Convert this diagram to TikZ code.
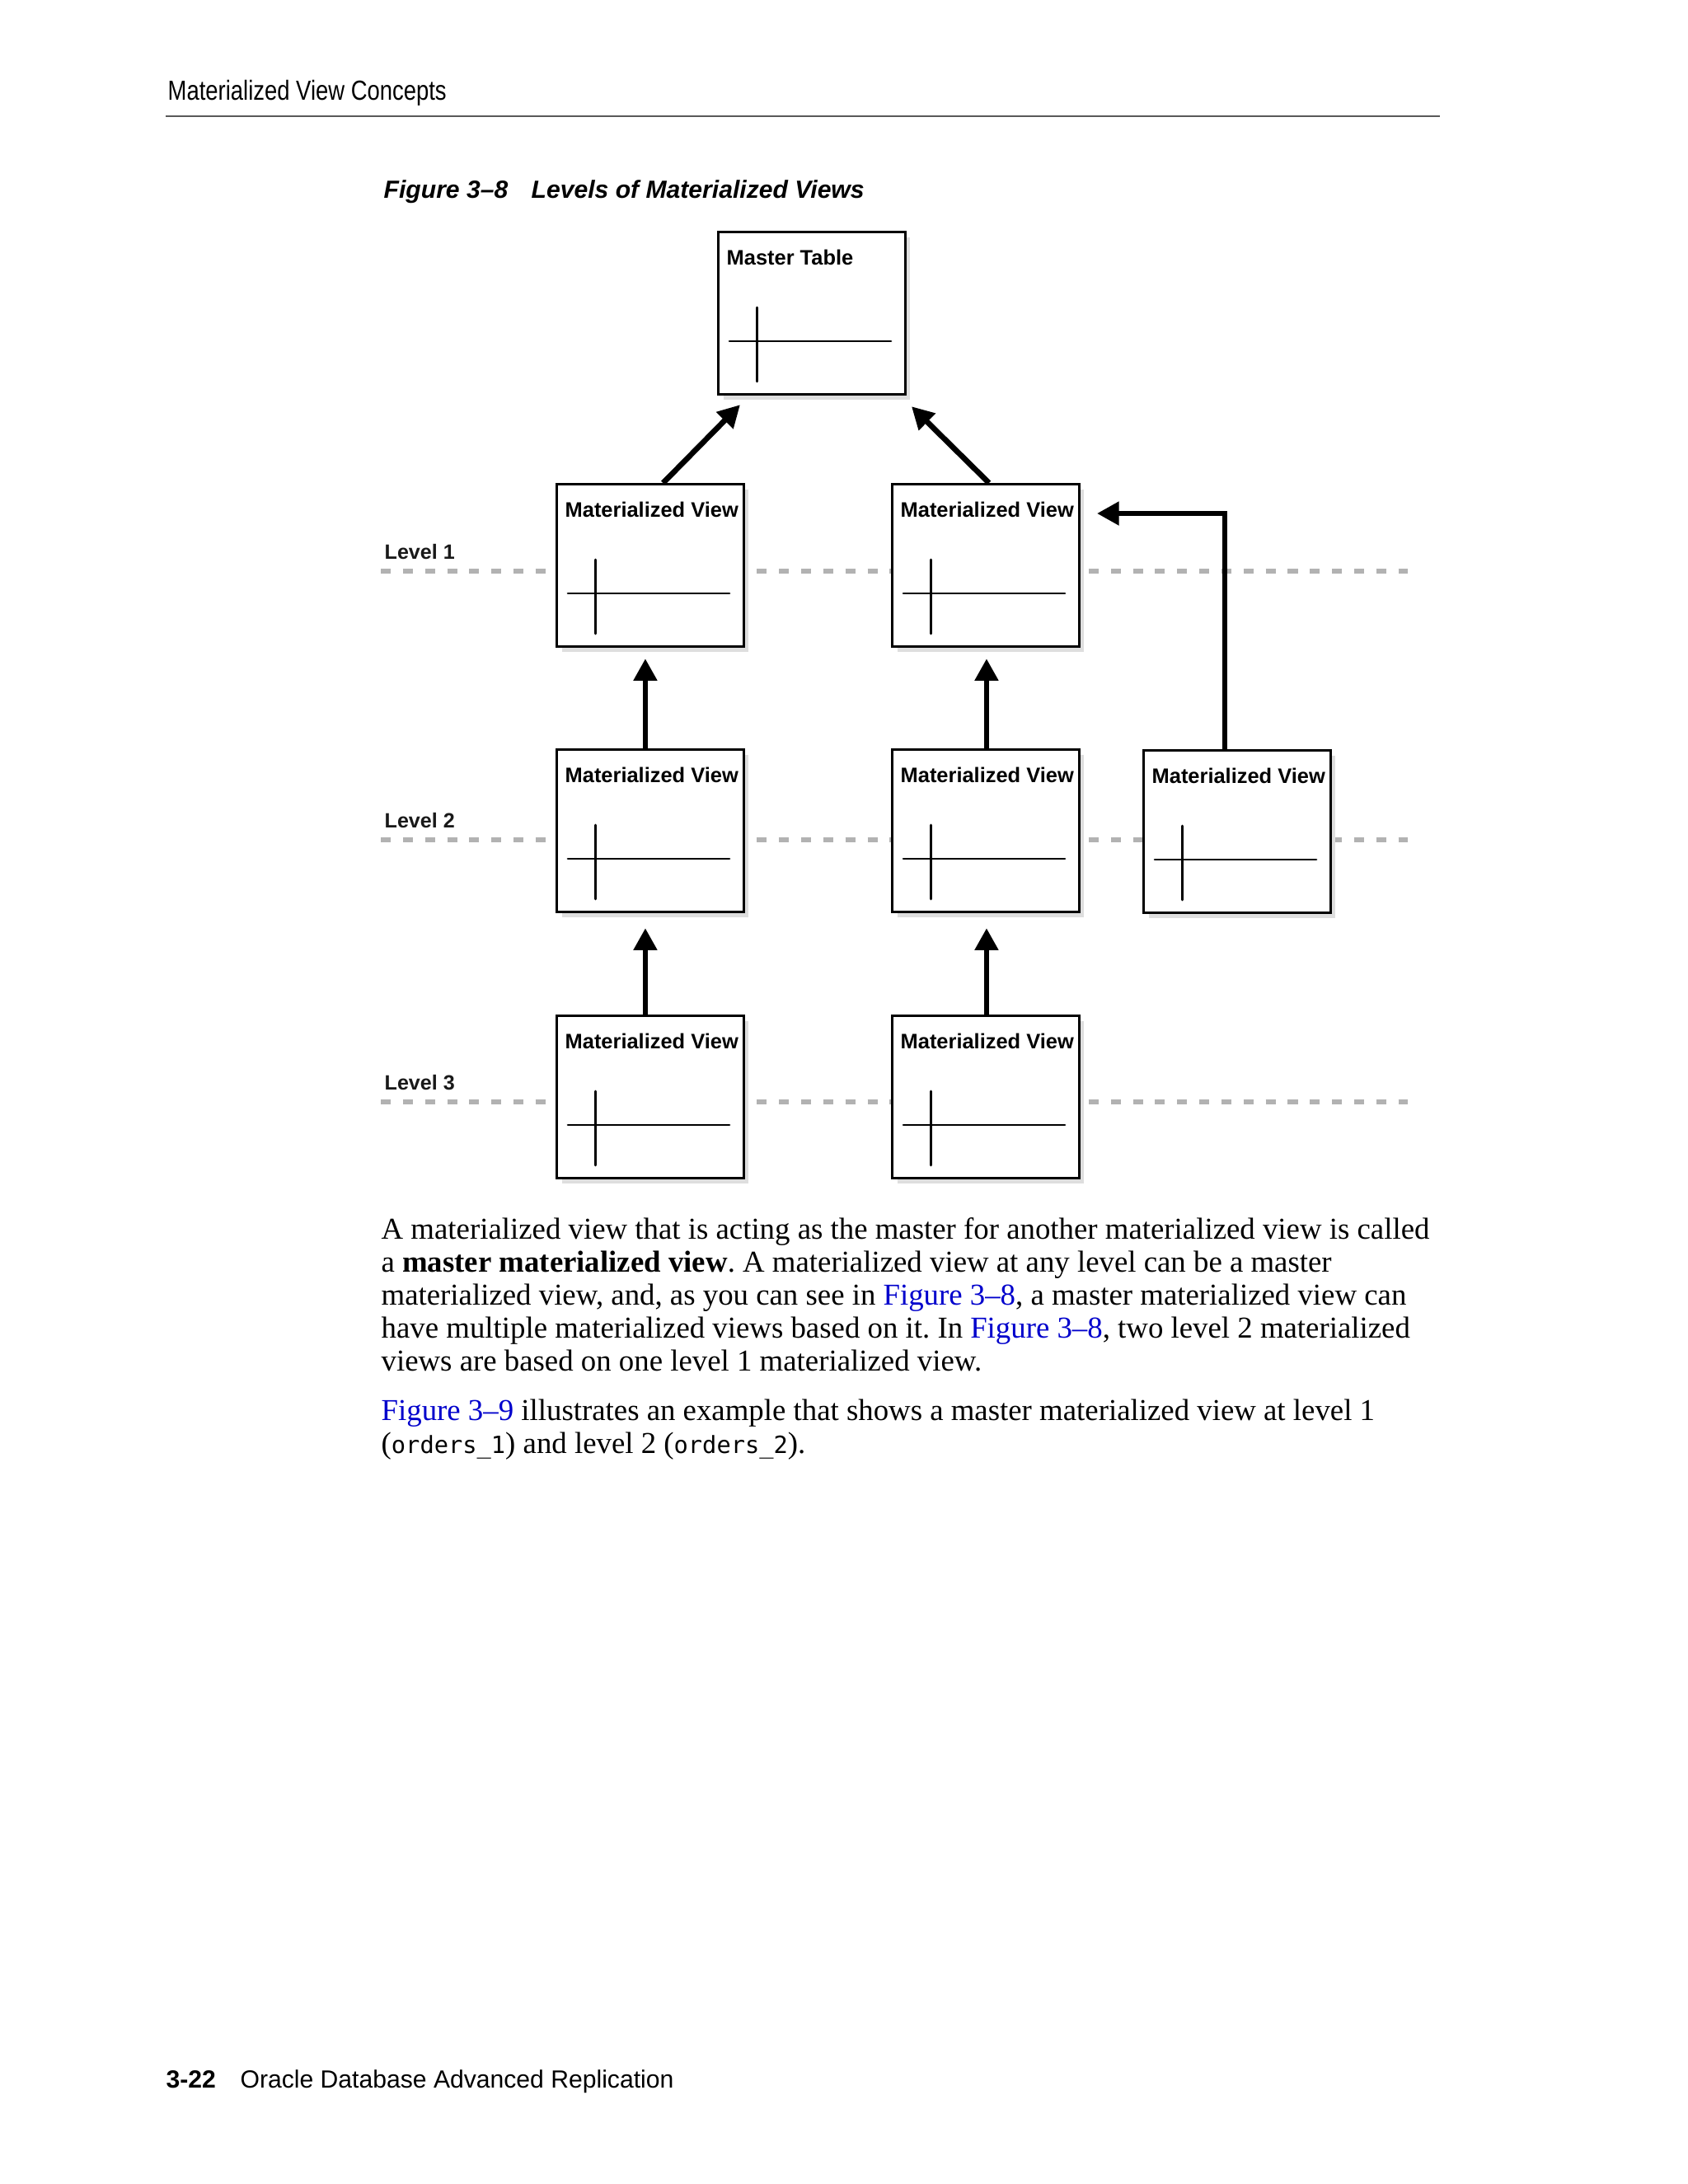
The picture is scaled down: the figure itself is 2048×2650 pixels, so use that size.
\documentclass[tikz,border=0pt]{standalone}
\usepackage{fontspec}
\setmainfont{Liberation Serif}
\setmonofont[Scale=0.78]{DejaVu Sans Mono}
\newfontfamily\labelsans{Liberation Sans}
\newfontfamily\narrowsans[FakeStretch=0.82]{Liberation Sans}
\usetikzlibrary{calc,arrows.meta,shadows}
\definecolor{linkblue}{RGB}{0,0,204}
\definecolor{levelgray}{RGB}{178,178,178}
\frenchspacing

\tikzset{
  mvbox/.style={draw, line width=0.9pt, fill=white, anchor=north west, inner sep=0pt,
    minimum width=67.8pt, minimum height=58.9pt,
    drop shadow={shadow xshift=1.8pt, shadow yshift=-1.8pt, fill=black!13, opacity=1}},
  boxtitle/.style={anchor=base west, inner sep=0pt, font=\labelsans\bfseries\fontsize{7.6}{9}\selectfont},
  tabline/.style={line width=0.8pt, line cap=round},
  mvarrow/.style={line width=2pt, -{Triangle[length=8pt,width=8.2pt]}},
  levelline/.style={levelgray, line width=1.8pt, dash pattern=on 3.59pt off 4.43pt},
  levellabel/.style={anchor=base west, inner sep=0pt, text=black!90, font=\labelsans\bfseries\fontsize{7.5}{9}\selectfont},
  figlabel/.style={anchor=base west, inner sep=0pt, font=\labelsans\bfseries\itshape\fontsize{9}{11}\selectfont},
  bodyline/.style={anchor=base west, inner sep=0pt, font=\fontsize{11}{13}\selectfont},
  pagetext/.style={anchor=base west, inner sep=0pt, font=\labelsans\fontsize{9}{11}\selectfont},
}

\newcommand{\mvbox}[4]{%
\node[mvbox] (#3) at (#1,#2) {};
\node[boxtitle] (#3title) at ($(#3.north west)+(11,41)$) {#4};
\draw[tabline] ($(#3.north west)+(48.5,93)$) -- ++(0,90);
\draw[tabline] ($(#3.north west)+(15,134)$) -- ++(196,0);
}
\newcommand{\linkto}[1]{\textcolor{linkblue}{#1}}

\begin{document}
\begin{tikzpicture}[x=0.2988pt,y=-0.2988pt]
\fill[white] (0,0) rectangle (2048,2650);
\useasboundingbox (0,0) rectangle (2048,2650);

% running header
\node[anchor=base west, inner sep=0pt, font=\narrowsans\fontsize{10}{12}\selectfont] (header) at (203,121) {Materialized View Concepts};
\draw[black!65, line width=0.45pt] (201,141) -- (1747,141);

% caption
\node[figlabel] (fignum) at (465,240) {Figure 3–8};
\node[figlabel] (figtitle) at (644,240) {Levels of Materialized Views};

% level lines
\foreach \lev/\y in {1/693,2/1019,3/1337}
{
\draw[levelline] (462,\y) -- (1708,\y);
\node[levellabel] (level\lev) at (466,\y-15) {Level \lev};
}

% boxes
\mvbox{870}{280}{master}{Master Table}

\mvbox{674}{586}{mv1a}{Materialized View}
\mvbox{1081}{586}{mv1b}{Materialized View}

\mvbox{674}{908}{mv2a}{Materialized View}
\mvbox{1081}{908}{mv2b}{Materialized View}
\mvbox{1386}{909}{mv2c}{Materialized View}

\mvbox{674}{1231}{mv3a}{Materialized View}
\mvbox{1081}{1231}{mv3b}{Materialized View}

% arrows
\draw[mvarrow] ($(mv1a.north)+(15.5,0)$) -- ($(master.south west)+(28,11)$);
\draw[mvarrow] ($(mv1b.north)+(4,0)$) -- ($(master.south east)+(6,13)$);

\draw[mvarrow] ($(mv2a.north)+(-6,0)$) -- ($(mv1a.south)+(-6,13)$);
\draw[mvarrow] ($(mv2b.north)+(1,0)$) -- ($(mv1b.south)+(1,13)$);
\draw[mvarrow] ($(mv2c.north)+(-15,0)$) |- ($(mv1b.north east)+(20,37)$);

\draw[mvarrow] ($(mv3a.north)+(-6,0)$) -- ($(mv2a.south)+(-6,18)$);
\draw[mvarrow] ($(mv3b.north)+(1,0)$) -- ($(mv2b.south)+(1,18)$);

% body text
\node[bodyline] (t1) at (462,1503) {A materialized view that is acting as the master for another materialized view is called};
\node[bodyline] (t2) at (462,1543) {a \textbf{master materialized view}. A materialized view at any level can be a master};
\node[bodyline] (t3) at (462,1583) {materialized view, and, as you can see in \linkto{Figure 3–8}, a master materialized view can};
\node[bodyline] (t4) at (462,1623) {have multiple materialized views based on it. In \linkto{Figure 3–8}, two level 2 materialized};
\node[bodyline] (t5) at (462,1663) {views are based on one level 1 materialized view.};

\node[bodyline] (t6) at (462,1723) {\linkto{Figure 3–9} illustrates an example that shows a master materialized view at level 1};
\node[bodyline] (t7) at (462,1763) {(\texttt{orders\_1}) and level 2 (\texttt{orders\_2}).};

% footer
\node[pagetext, font=\labelsans\bfseries\fontsize{9}{11}\selectfont] (pagenum) at (201,2533) {3-22};
\node[pagetext] (booktitle) at (291,2533) {Oracle Database Advanced Replication};

\end{tikzpicture}
\end{document}
